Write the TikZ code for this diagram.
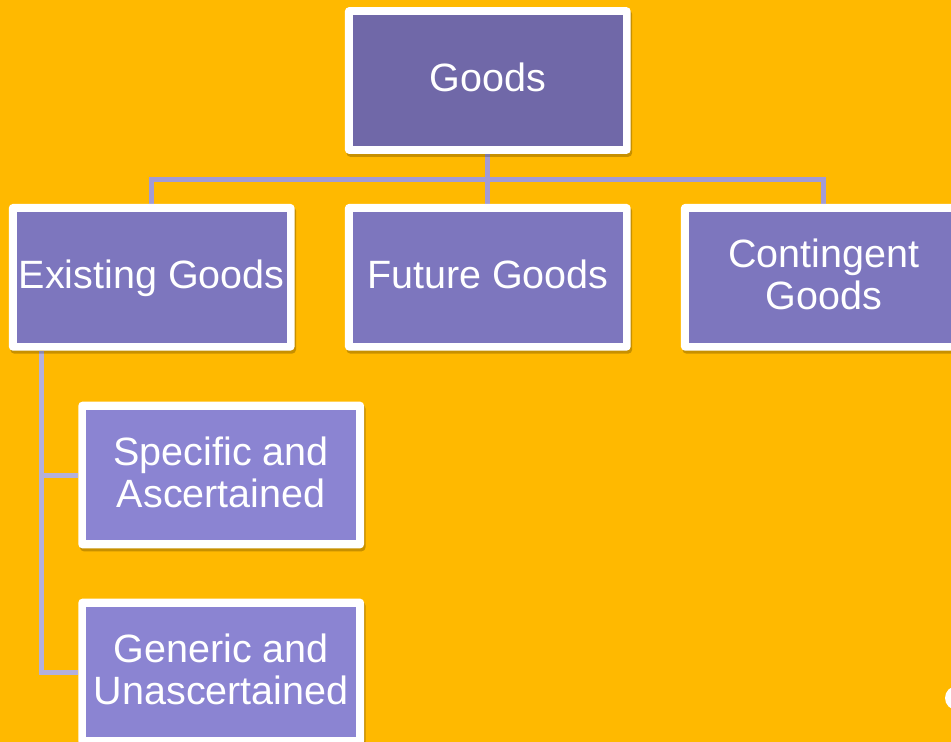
\documentclass[tikz,border=0pt]{standalone}
\usepackage{fontspec}
\setmainfont{Liberation Sans}
\usetikzlibrary{shadows}
\pgfdeclarelayer{bg}
\pgfsetlayers{bg,main}
\definecolor{bgorange}{HTML}{FFB900}
\definecolor{topfill}{HTML}{7068A8}
\definecolor{midfill}{HTML}{7D76BE}
\definecolor{lowfill}{HTML}{8B84D2}
\definecolor{linetop}{HTML}{A29BD6}
\definecolor{linelow}{HTML}{B4B0DC}
\begin{document}
\begin{tikzpicture}[x=1pt,y=-1pt,
  box/.style={fill=white, rounded corners=4pt, minimum width=285.7pt,
    minimum height=146.7pt, inner sep=0pt, text=white, align=center,
    font=\fontsize{39.5}{41.5}\selectfont,
    drop shadow={shadow xshift=1.5pt, shadow yshift=-3pt, opacity=0.22, fill=black},
    path picture={\fill[#1, sharp corners]
      ([shift={(8pt,8pt)}]path picture bounding box.south west) rectangle
      ([shift={(-8pt,-8pt)}]path picture bounding box.north east);}},
  oneline/.style={text height=33.6pt, text depth=10.7pt},
  twoline/.style={text depth=6pt},
  conn/.style={draw=#1, line width=5pt}]
\useasboundingbox (0,0) rectangle (951,742);
\clip (0,0) rectangle (951,742);
\begin{pgfonlayer}{bg}
  \fill[bgorange] (0,0) rectangle (951,742);
\end{pgfonlayer}

\node[box=topfill, oneline] (goods) at (487.8,80.5) {Goods};
\node[box=midfill, oneline] (exist) at (151.7,277.3) {Existing Goods};
\node[box=midfill, oneline] (future) at (487.8,277.3) {Future Goods};
\node[box=midfill, twoline] (conting) at (823.8,277.3) {Contingent\\Goods};
\node[box=lowfill, twoline] (spec) at (221.2,475) {Specific and\\Ascertained};
\node[box=lowfill, twoline] (gener) at (221.2,672) {Generic and\\Unascertained};

\coordinate (bar) at (0,179);
\coordinate (trunk) at (41,0);
\node[circle, fill=white, inner sep=0pt, minimum size=24pt] (dot) at (957,698) {};

\begin{pgfonlayer}{bg}
  \draw[conn=linetop] (goods.south) -- (future.north);
  \draw[conn=linetop] (exist.north) -- (exist.north |- bar) -- (conting.north |- bar) -- (conting.north);
  \draw[conn=linelow] (trunk |- exist.south) -- (trunk |- gener.west) -- (gener.west);
  \draw[conn=linelow] (trunk |- spec.west) -- (spec.west);
\end{pgfonlayer}
\end{tikzpicture}
\end{document}
